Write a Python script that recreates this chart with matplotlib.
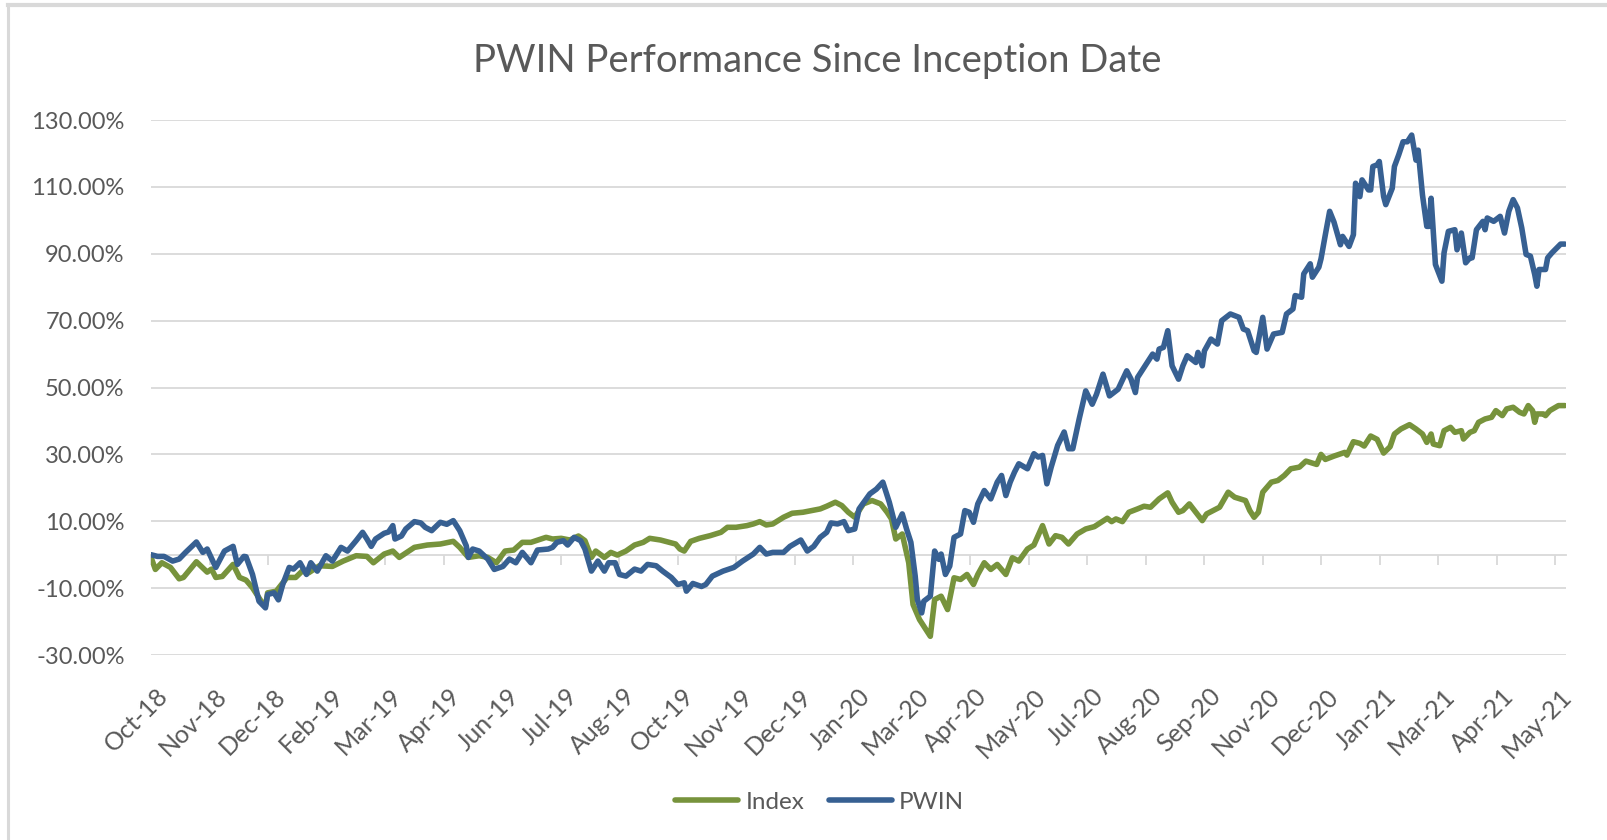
import matplotlib
matplotlib.use("Agg")
import matplotlib.pyplot as plt
from matplotlib.ticker import FuncFormatter
from matplotlib.transforms import ScaledTranslation

# ---------------- data ----------------
# x = trading-day index since inception; values in %
pwin_day = [0, 3, 6, 10, 13, 16, 21, 24, 26, 30, 34, 38, 40, 43, 44, 47, 50, 53, 54, 57, 59, 61, 64, 66, 69, 72,
            74, 77, 81, 84, 88, 91, 95, 98, 100, 102, 104, 108, 110, 112, 113, 116, 118, 122, 125, 127, 130, 134,
            137, 140, 143, 146, 147, 149, 152, 156, 159, 163, 166, 169, 172, 176, 179, 184, 186, 188, 191, 193, 196,
            199, 201, 204, 207, 210, 212, 215, 217, 220, 224, 227, 230, 234, 237, 241, 244, 247, 248, 251, 255, 257,
            260, 265, 270, 274, 279, 282, 285, 288, 293, 296, 301, 304, 307, 310, 313, 315, 318, 321, 323, 326, 328,
            333, 336, 339, 342, 345, 348, 350, 352, 354, 355, 357, 358, 361, 363, 365, 366, 368, 370, 372, 375, 377,
            379, 381, 383, 386, 389, 392, 394, 396, 398, 400, 402, 406, 409, 411, 413, 415, 417, 420, 423, 425, 427,
            429, 430, 433, 436, 438, 441, 444, 448, 452, 454, 456, 457, 461, 464, 466, 467, 469, 471, 473, 476, 478,
            480, 484, 485, 487, 488, 491, 494, 496, 500, 504, 506, 508, 511, 512, 515, 517, 520, 524, 526, 529, 530,
            533, 534, 537, 538, 541, 542, 544, 546, 548, 551, 552, 554, 555, 557, 558, 560, 561, 564, 565, 566, 568,
            569, 571, 572, 575, 576, 578, 580, 582, 584, 586, 587, 589, 591, 592, 593, 595, 598, 599, 601, 604, 605,
            607, 609, 611, 612, 614, 617, 618, 619, 622, 625, 627, 629, 631, 633, 635, 637, 639, 641, 642, 643, 646,
            647, 649, 653, 655]
pwin_val = [0.0, -0.5, -0.5, -1.9, -1.3, 0.7, 3.8, 0.7, 1.7, -3.8, 1.1, 2.5, -2.9, -0.5, -0.6, -5.9, -13.9, -15.9,
            -11.9, -11.4, -13.5, -8.9, -3.8, -4.3, -2.4, -5.9, -2.4, -4.9, -0.3, -1.9, 2.2, 1.1, 4.2, 6.7, 4.7, 2.5,
            4.7, 6.4, 6.8, 8.7, 4.7, 5.6, 7.7, 9.9, 9.5, 8.2, 7.2, 9.7, 9.1, 10.2, 7.2, 2.7, -0.8, 1.7, 1.1, -1.3,
            -4.4, -3.5, -1.3, -2.4, 0.7, -2.4, 1.4, 1.7, 2.2, 3.7, 4.2, 2.9, 5.2, 4.2, 1.7, -4.9, -1.9, -4.9, -2.4,
            -2.4, -5.9, -6.4, -4.3, -4.9, -2.9, -3.3, -4.9, -6.8, -8.9, -8.4, -10.9, -8.6, -9.5, -8.9, -6.4, -4.9,
            -3.8, -1.9, 0.2, 2.2, 0.2, 0.7, 0.7, 2.5, 4.4, 1.1, 2.5, 5.2, 6.7, 9.5, 9.2, 9.9, 7.2, 7.7, 13.7, 18.2,
            19.6, 21.7, 15.7, 8.2, 12.2, 7.7, 3.7, -6.4, -13.4, -17.4, -13.9, -12.4, 1.1, -1.4, 0.2, -5.9, -3.4, 5.2,
            6.2, 13.2, 12.7, 9.7, 15.2, 19.2, 16.7, 21.7, 23.7, 17.7, 21.7, 24.7, 27.2, 25.7, 30.2, 29.2, 29.7, 21.2,
            26.2, 32.7, 36.7, 31.7, 31.7, 37.7, 40.7, 49.0, 45.0, 48.0, 54.0, 47.5, 49.5, 55.0, 52.5, 48.5, 53.0,
            57.0, 60.0, 58.5, 61.5, 62.0, 67.0, 56.5, 52.5, 56.5, 59.5, 57.5, 60.5, 56.5, 61.0, 64.5, 63.0, 70.0,
            72.0, 71.0, 67.5, 67.0, 61.0, 60.5, 71.0, 61.5, 66.0, 66.5, 72.0, 73.5, 77.5, 77.0, 84.0, 87.0, 83.0,
            86.0, 88.5, 95.7, 102.7, 99.5, 92.7, 95.2, 93.2, 92.2, 95.7, 111.1, 107.1, 112.1, 109.1, 109.1, 116.1,
            116.6, 117.6, 107.1, 104.7, 109.6, 116.1, 119.6, 123.5, 123.5, 125.5, 118.0, 121.0, 107.6, 98.2, 98.2,
            106.6, 86.8, 81.8, 90.3, 96.7, 97.2, 91.2, 96.2, 87.3, 88.8, 88.8, 97.2, 99.7, 97.2, 100.7, 99.7, 101.2,
            96.2, 102.7, 106.2, 103.7, 97.7, 89.8, 89.3, 83.8, 80.3, 85.3, 85.3, 88.8, 90.3, 92.9, 92.9]

index_day = [0, 2, 5, 9, 13, 15, 21, 26, 28, 30, 33, 38, 41, 44, 47, 51, 53, 54, 58, 63, 67, 70, 73, 78, 84, 89, 95,
             100, 103, 108, 112, 115, 122, 128, 134, 140, 143, 147, 152, 156, 160, 164, 168, 172, 176, 183, 186, 190,
             194, 198, 201, 204, 206, 210, 213, 216, 220, 224, 228, 231, 236, 240, 243, 245, 247, 250, 254, 259, 264,
             267, 271, 276, 279, 282, 285, 288, 293, 297, 302, 306, 310, 313, 317, 320, 323, 326, 330, 334, 338, 341,
             343, 345, 348, 351, 353, 356, 361, 363, 366, 369, 372, 375, 378, 381, 383, 386, 389, 392, 396, 399, 402,
             406, 409, 413, 416, 419, 422, 425, 429, 433, 437, 443, 445, 447, 450, 453, 457, 460, 463, 467, 471, 473,
             476, 478, 481, 487, 489, 492, 495, 499, 502, 507, 509, 511, 513, 515, 519, 522, 525, 528, 532, 535, 540,
             542, 544, 548, 553, 554, 557, 560, 562, 565, 568, 571, 574, 576, 579, 583, 586, 589, 591, 593, 594, 597,
             599, 602, 604, 607, 608, 611, 613, 615, 618, 621, 623, 626, 628, 631, 634, 636, 638, 640, 641, 642, 645,
             646, 648, 652, 655]
index_val = [-0.8, -4.4, -2.4, -3.8, -7.2, -6.8, -2.1, -5.2, -4.3, -6.8, -6.5, -2.9, -6.8, -7.6, -9.9, -13.9, -15.4,
             -11.4, -10.9, -6.8, -6.8, -4.9, -5.4, -3.3, -3.5, -1.9, -0.3, -0.5, -2.4, 0.2, 1.1, -0.8, 2.2, 2.9, 3.2,
             4.0, 2.2, -0.8, -0.3, -0.8, -2.4, 1.1, 1.4, 3.7, 3.7, 5.2, 4.7, 4.9, 4.4, 5.6, 4.2, -0.8, 1.1, -0.8, 0.7,
             -0.1, 1.1, 2.9, 3.7, 4.9, 4.4, 3.7, 3.2, 1.7, 1.1, 4.0, 4.9, 5.7, 6.7, 8.2, 8.2, 8.7, 9.2, 9.9, 8.9, 9.2,
             11.2, 12.4, 12.7, 13.2, 13.7, 14.5, 15.7, 14.7, 12.7, 11.2, 15.2, 16.2, 15.2, 12.7, 10.7, 4.7, 6.2, -2.4,
             -14.9, -19.4, -24.4, -13.4, -12.4, -16.4, -6.9, -7.4, -5.9, -8.9, -5.9, -2.4, -4.4, -2.9, -5.9, -0.9,
             -1.9, 1.7, 2.9, 8.7, 3.2, 5.7, 5.2, 3.2, 6.2, 7.7, 8.4, 10.9, 9.9, 10.7, 9.9, 12.7, 13.7, 14.5, 14.2,
             16.7, 18.5, 15.7, 12.7, 13.2, 15.2, 10.2, 12.2, 13.2, 14.2, 18.7, 17.2, 16.2, 13.2, 11.2, 12.7, 18.7,
             21.7, 22.2, 23.7, 25.7, 26.2, 28.0, 27.0, 30.0, 28.5, 29.5, 30.6, 29.8, 33.8, 33.3, 32.5, 35.5, 34.5,
             30.4, 32.3, 36.1, 37.6, 38.9, 37.6, 36.1, 33.6, 36.1, 33.1, 32.6, 37.1, 38.1, 36.6, 37.1, 34.6, 36.6,
             37.1, 39.6, 40.6, 41.1, 43.1, 41.6, 43.6, 44.1, 42.6, 42.1, 44.6, 43.1, 39.6, 42.1, 42.1, 41.6, 43.1,
             44.6, 44.6]

tick_labels = ["Oct-18", "Nov-18", "Dec-18", "Feb-19", "Mar-19", "Apr-19", "Jun-19", "Jul-19", "Aug-19",
               "Oct-19", "Nov-19", "Dec-19", "Jan-20", "Mar-20", "Apr-20", "May-20", "Jul-20", "Aug-20",
               "Sep-20", "Nov-20", "Dec-20", "Jan-21", "Mar-21", "Apr-21", "May-21"]
tick_step = 27.1  # trading days between labelled ticks
y_ticks = [-30, -10, 10, 30, 50, 70, 90, 110, 130]

# ---------------- style ----------------
plt.rcParams['font.family'] = ['Lato', 'DejaVu Sans']
TXT = '#595959'
GRID = '#D9D9D9'
GREEN = '#77933C'
BLUE = '#376092'

fig = plt.figure(figsize=(16.07, 8.40), dpi=100)
ax = fig.add_axes([0.094, 0.2202, 0.8805, 0.6369])

ax.plot(index_day, index_val, color=GREEN, lw=4.0, label='Index', solid_joinstyle='round',
        solid_capstyle='round', zorder=3)
ax.plot(pwin_day, pwin_val, color=BLUE, lw=4.0, label='PWIN', solid_joinstyle='round',
        solid_capstyle='round', zorder=4)

ymin, ymax = -30, 130
ax.set_ylim(ymin, ymax)
ax.set_xlim(0, 655.5)
ax.set_yticks(y_ticks)
ax.yaxis.set_major_formatter(FuncFormatter(lambda v, p: f"{v:.2f}%"))
ax.grid(axis='y', color=GRID, lw=1.3)
ax.set_axisbelow(True)
for s in ax.spines.values():
    s.set_visible(False)

ticks = [i * tick_step for i in range(len(tick_labels))]
ax.set_xticks(ticks)
ax.set_xticklabels(tick_labels, rotation=45, ha='right', rotation_mode='anchor')
ax.tick_params(axis='x', length=0, pad=21, labelsize=18, labelcolor=TXT)
ax.tick_params(axis='y', length=0, pad=19, labelsize=17, labelcolor=TXT)
shift = ScaledTranslation(5 / 100, 0, fig.dpi_scale_trans)
for lab in ax.get_xticklabels():
    lab.set_transform(lab.get_transform() + shift)

# horizontal axis line at 0% with tick marks
sec = ax.secondary_xaxis((0 - ymin) / (ymax - ymin))
sec.set_xticks(ticks)
sec.set_xticklabels([])
sec.tick_params(axis='x', length=7, width=1.3, color=GRID, direction='out')
sec.spines['bottom'].set_color(GRID)
sec.spines['bottom'].set_linewidth(1.3)

fig.text(0.5085, 0.927, "PWIN Performance Since Inception Date", ha='center', va='center',
         fontsize=27.5, color=TXT)

fig.legend(loc='center', bbox_to_anchor=(0.51, 0.045), ncol=2, frameon=False, fontsize=17.5,
           handlelength=2.6, columnspacing=1.0, handletextpad=0.3, labelcolor=TXT)

# chart-area border (top and left edges visible in the screenshot)
fig.add_artist(plt.Line2D([0.005, 0.005], [0, 0.994], transform=fig.transFigure, color='#D9D9D9', lw=2.2))
fig.add_artist(plt.Line2D([0.005, 1.0], [0.994, 0.994], transform=fig.transFigure, color='#D9D9D9', lw=3))

fig.savefig("out.png", dpi=100)
